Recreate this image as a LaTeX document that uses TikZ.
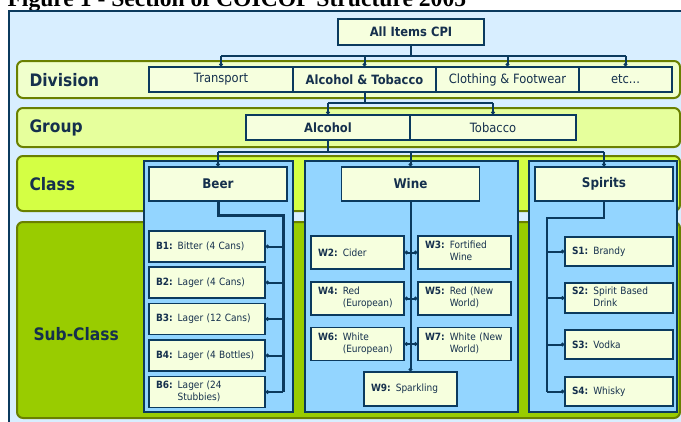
\documentclass[tikz,border=0pt]{standalone}
\usepackage{fontspec}
\setmainfont{DejaVu Sans}[FakeStretch=0.9]
\newfontfamily\capfont{Liberation Serif}
\usetikzlibrary{arrows.meta}

\definecolor{navy}{HTML}{0B3A5E}
\definecolor{ink}{HTML}{15304D}
\definecolor{sky}{HTML}{D8EEFF}
\definecolor{panelblue}{HTML}{93D5FF}
\definecolor{cream}{HTML}{F6FFDE}
\definecolor{divfill}{HTML}{F0FFCC}
\definecolor{grpfill}{HTML}{E6FF9C}
\definecolor{clsfill}{HTML}{D4FF44}
\definecolor{subfill}{HTML}{99CC00}
\definecolor{olive}{HTML}{6A8000}

\tikzset{
  band/.style={draw=olive, line width=2pt, rounded corners=6pt},
  rowlabel/.style={anchor=west, text=ink, font=\fontsize{17.2}{20}\selectfont\bfseries},
  panel/.style={draw=navy, line width=1.5pt, fill=panelblue},
  box/.style={draw=navy, line width=1.5pt, fill=cream, text=ink, inner sep=0pt},
  divbox/.style={box, minimum height=25pt, font=\fontsize{12.8}{15}\selectfont},
  clsbox/.style={box, minimum width=138pt, minimum height=34pt, font=\fontsize{13.3}{15}\selectfont\bfseries},
  subbox/.style={box, minimum height=31pt, text width=#1-14pt, align=left, inner xsep=7pt,
    font=\fontsize{10}{12}\selectfont},
  subbox/.default=116pt,
  line/.style={draw=navy, line width=2pt},
  tip/.style={line, -{Circle[length=3.5pt]}},
}

\newcommand{\subcls}[3]{\begin{tabular}{@{}l@{ }l@{}}\textbf{#1} & #2\\ & #3\end{tabular}}
\newcommand{\subone}[2]{\textbf{#1} #2}

\begin{document}
\begin{tikzpicture}[x=1pt,y=-1pt]
  \useasboundingbox (0,0) rectangle (681,421);
  \clip (0,0) rectangle (681,421);

  % caption and background
  \node[anchor=base west, font=\capfont\bfseries\fontsize{23.6}{26}\selectfont]
    (caption) at (4,6.5) {Figure 1 - Section of COICOP Structure 2005};
  \draw[navy, line width=2pt, fill=sky] (9,11) rectangle (700,440);

  % rows
  \draw[band, fill=divfill] (17,61) rectangle (680,98);
  \draw[band, fill=grpfill] (17,108) rectangle (680,147);
  \draw[band, fill=clsfill] (17,156) rectangle (680,211);
  \draw[band, fill=subfill] (17,222) rectangle (680,418);
  \node[rowlabel] (lbldiv) at (26,80) {Division};
  \node[rowlabel] (lblgrp) at (26,128) {Group};
  \node[rowlabel] (lblcls) at (26,184) {Class};
  \node[rowlabel] (lblsub) at (30,334) {Sub-Class};

  % class panels
  \draw[panel] (144,161) rectangle (293,412);
  \draw[panel] (305,161) rectangle (518,412);
  \draw[panel] (529,161) rectangle (677,412);

  % top, division, group
  \node[box, minimum width=146pt, minimum height=26pt, font=\fontsize{12.8}{15}\selectfont\bfseries]
    (cpi) at (411,32) {All Items CPI};
  \node[divbox, minimum width=144pt] (trans) at (221,79.5) {Transport};
  \node[divbox, minimum width=143pt, font=\fontsize{12.8}{15}\selectfont\bfseries] (alctob) at (364.5,79.5) {Alcohol \& Tobacco};
  \node[divbox, minimum width=143pt] (cloth) at (507.5,79.5) {Clothing \& Footwear};
  \node[divbox, minimum width=93pt] (etc) at (625.5,79.5) {etc...};
  \node[divbox, minimum width=164pt, font=\fontsize{12.8}{15}\selectfont\bfseries] (alc) at (328,127.5) {Alcohol};
  \node[divbox, minimum width=166pt] (tob) at (493,127.5) {Tobacco};

  % class headers
  \node[clsbox] (beer) at (218,184) {Beer};
  \node[clsbox] (wine) at (410.5,184) {Wine};
  \node[clsbox] (spirits) at (604,184) {Spirits};

  % beer
  \node[subbox] (b1) at (207,246.5) {\subone{B1:}{Bitter (4 Cans)}};
  \node[subbox] (b2) at (207,282.5) {\subone{B2:}{Lager (4 Cans)}};
  \node[subbox] (b3) at (207,319) {\subone{B3:}{Lager (12 Cans)}};
  \node[subbox] (b4) at (207,355.5) {\subone{B4:}{Lager (4 Bottles)}};
  \node[subbox] (b6) at (207,392) {\subcls{B6:}{Lager (24}{Stubbies)}};

  % wine
  \node[subbox=93pt, minimum height=33pt] (w2) at (357.5,252.5) {\subone{W2:}{Cider}};
  \node[subbox=93pt, minimum height=33pt] (w3) at (464.5,252.5) {\subcls{W3:}{Fortified}{Wine}};
  \node[subbox=93pt, minimum height=33pt] (w4) at (357.5,298.5) {\subcls{W4:}{Red}{(European)}};
  \node[subbox=93pt, minimum height=33pt] (w5) at (464.5,298.5) {\subcls{W5:}{Red (New}{World)}};
  \node[subbox=93pt, minimum height=33pt] (w6) at (357.5,344) {\subcls{W6:}{White}{(European)}};
  \node[subbox=93pt, minimum height=33pt] (w7) at (464.5,344) {\subcls{W7:}{White (New}{World)}};
  \node[subbox=93pt, minimum height=34pt] (w9) at (410.5,389) {\subone{W9:}{Sparkling}};

  % spirits
  \node[subbox=108pt, minimum height=29pt] (s1) at (619,251.5) {\subone{S1:}{Brandy}};
  \node[subbox=108pt, minimum height=30pt] (s2) at (619,298) {\subcls{S2:}{Spirit Based}{Drink}};
  \node[subbox=108pt, minimum height=29pt] (s3) at (619,344.5) {\subone{S3:}{Vodka}};
  \node[subbox=108pt, minimum height=29pt] (s4) at (619,391.5) {\subone{S4:}{Whisky}};

  % connectors: division
  \coordinate (bus1) at (411,56);
  \draw[line] (cpi.south) -- (bus1);
  \draw[line] (bus1 -| trans.north) -- (bus1 -| etc.north);
  \foreach \n in {trans,alctob,cloth,etc}
    \draw[tip] (bus1 -| \n.north) -- (\n.north);

  % connectors: group
  \coordinate (bus2) at (364.5,103);
  \draw[line] (alctob.south) -- (bus2);
  \draw[line] (bus2 -| alc.north) -- (bus2 -| tob.north);
  \foreach \n in {alc,tob}
    \draw[tip] (bus2 -| \n.north) -- (\n.north);

  % connectors: class
  \coordinate (bus3) at (328,151.5);
  \draw[line] (alc.south) -- (bus3);
  \draw[line] (bus3 -| beer.north) -- (bus3 -| spirits.north);
  \foreach \n in {beer,wine,spirits}
    \draw[tip] (bus3 -| \n.north) -- (\n.north);

  % connectors: sub-class
  \coordinate (beerbus) at (283,215);
  \draw[line, line width=3pt] (beer.south) |- (beerbus) -- (beerbus |- b6.east);
  \foreach \n in {b1,b2,b3,b4,b6}
    \draw[tip] (beerbus |- \n.east) -- (\n.east);

  \draw[tip] (wine.south) -- (w9.north);
  \foreach \n in {w2,w4,w6}
    \draw[tip] (wine.south |- \n.east) -- (\n.east);
  \foreach \n in {w3,w5,w7}
    \draw[tip] (wine.south |- \n.west) -- (\n.west);

  \coordinate (spbus) at (547,218);
  \draw[line] (spirits.south) |- (spbus) -- (spbus |- s4.west);
  \foreach \n in {s1,s2,s3,s4}
    \draw[tip] (spbus |- \n.west) -- (\n.west);
\end{tikzpicture}
\end{document}
